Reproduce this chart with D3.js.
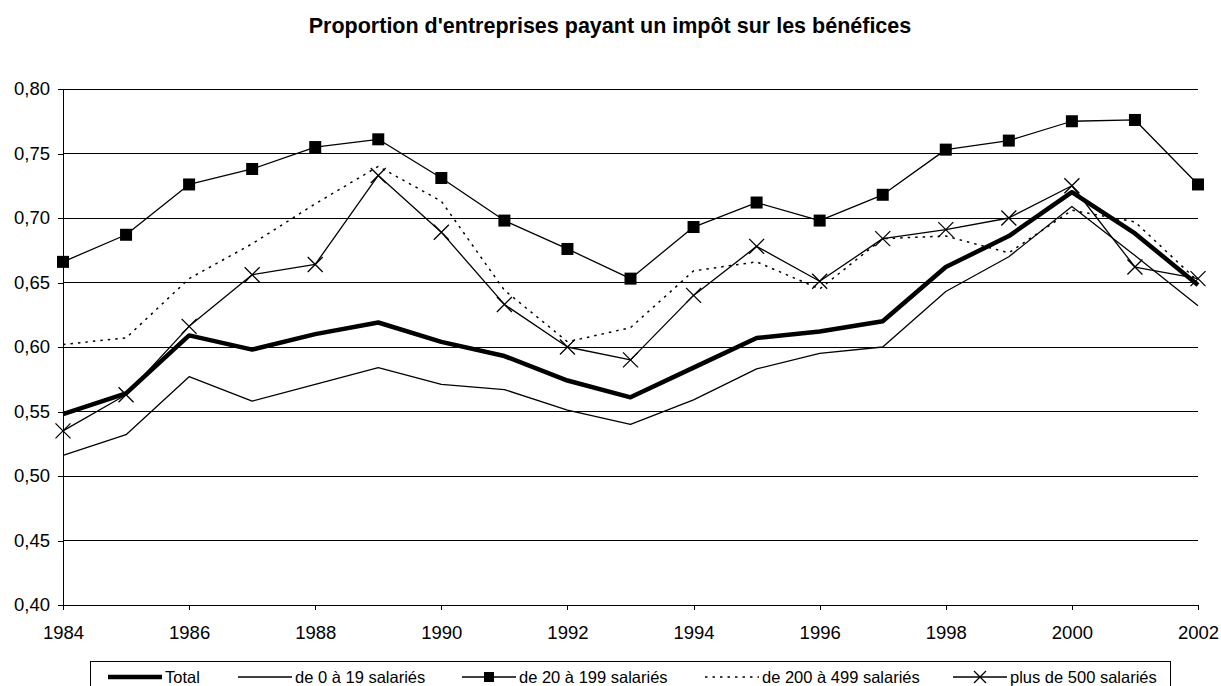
<!DOCTYPE html>
<html>
<head>
<meta charset="utf-8">
<script src="https://cdn.jsdelivr.net/npm/d3@7"></script>
<style>
  body { margin: 0; background: #fff; }
  svg { display: block; font-family: "Liberation Sans", Arial, sans-serif; }
</style>
</head>
<body>
<svg></svg>
<script>
const width = 1221;
const height = 686;

// data
const years = d3.range(1984, 2003);
const total    = [0.548,0.564,0.609,0.598,0.610,0.619,0.604,0.593,0.574,0.561,0.584,0.607,0.612,0.620,0.662,0.686,0.720,0.688,0.648];
const s0to19   = [0.516,0.532,0.577,0.558,0.571,0.584,0.571,0.567,0.551,0.540,0.559,0.583,0.595,0.600,0.643,0.670,0.709,0.671,0.632];
const s20to199 = [0.666,0.687,0.726,0.738,0.755,0.761,0.731,0.698,0.676,0.653,0.693,0.712,0.698,0.718,0.753,0.760,0.775,0.776,0.726];
const s200to499= [0.602,0.607,0.653,0.680,0.711,0.740,0.713,0.644,0.604,0.615,0.659,0.666,0.645,0.684,0.686,0.673,0.706,0.697,0.651];
const s500plus = [0.535,0.563,0.616,0.656,0.664,0.733,0.689,0.633,0.600,0.590,0.640,0.678,0.651,0.684,0.691,0.700,0.725,0.662,0.653];

const seriesNames = ["Total", "de 0 à 19 salariés", "de 20 à 199 salariés", "de 200 à 499 salariés", "plus de 500 salariés"];
const yTicks = [0.40, 0.45, 0.50, 0.55, 0.60, 0.65, 0.70, 0.75, 0.80];
const xTicks = [1984, 1986, 1988, 1990, 1992, 1994, 1996, 1998, 2000, 2002];
const title = "Proportion d'entreprises payant un impôt sur les bénéfices";

const series = [
  {name: seriesNames[0], values: total,     width: 4.5, dash: null,  marker: null},
  {name: seriesNames[1], values: s0to19,    width: 1.3, dash: null,  marker: null},
  {name: seriesNames[2], values: s20to199,  width: 1.3, dash: null,  marker: "square"},
  {name: seriesNames[3], values: s200to499, width: 1.5, dash: "2.5,5", marker: null},
  {name: seriesNames[4], values: s500plus,  width: 1.3, dash: null,  marker: "cross"}
];

const margin = {left: 63, right: 23, top: 89, bottom: 81};

const svg = d3.select("svg").attr("width", width).attr("height", height);

const xScale = d3.scaleLinear()
  .domain([1984, 2002])
  .range([margin.left, width - margin.right]);

const yScale = d3.scaleLinear()
  .domain([0.40, 0.80])
  .range([height - margin.bottom, margin.top]);

const fr = d3.formatLocale({decimal: ",", thousands: " ", grouping: [3], currency: ["", "€"]});
const fmt = fr.format(".2f");

// gridlines
svg.append("g")
  .selectAll("line")
  .data(yTicks.slice(1))
  .enter()
  .append("line")
  .attr("x1", margin.left)
  .attr("x2", width - margin.right)
  .attr("y1", d => yScale(d))
  .attr("y2", d => yScale(d))
  .attr("stroke", "#000")
  .attr("stroke-width", 1)
  .attr("shape-rendering", "crispEdges");

// axes
const yAxis = d3.axisLeft(yScale).tickValues(yTicks).tickFormat(fmt).tickSize(5).tickPadding(8);
const gy = svg.append("g")
  .attr("transform", "translate(" + margin.left + ",0)")
  .call(yAxis);

const xAxis = d3.axisBottom(xScale).tickValues(xTicks).tickFormat(d3.format("d")).tickSize(5).tickPadding(16);
const gx = svg.append("g")
  .attr("transform", "translate(0," + (height - margin.bottom) + ")")
  .call(xAxis);

[gx, gy].forEach(g => {
  g.select(".domain").attr("stroke", "#000").attr("shape-rendering", "crispEdges");
  g.selectAll(".tick line").attr("stroke", "#000").attr("shape-rendering", "crispEdges");
  g.selectAll("text").attr("font-size", 18.5).attr("fill", "#000")
    .attr("font-family", "'Liberation Sans', Arial, sans-serif");
});
gx.select(".domain").attr("d", "M" + margin.left + ",0H" + (width - margin.right));

// lines
const line = d3.line()
  .x((d, i) => xScale(years[i]))
  .y(d => yScale(d));

series.forEach(s => {
  svg.append("path")
    .datum(s.values)
    .attr("d", line)
    .attr("fill", "none")
    .attr("stroke", "#000")
    .attr("stroke-width", s.width)
    .attr("stroke-linejoin", "round")
    .attr("stroke-dasharray", s.dash);

  if (s.marker === "square") {
    svg.append("g").selectAll("rect")
      .data(s.values)
      .enter()
      .append("rect")
      .attr("x", (d, i) => xScale(years[i]) - 6)
      .attr("y", d => yScale(d) - 6)
      .attr("width", 12)
      .attr("height", 12)
      .attr("fill", "#000");
  }
  if (s.marker === "cross") {
    svg.append("g").selectAll("path")
      .data(s.values)
      .enter()
      .append("path")
      .attr("d", (d, i) => {
        const cx = xScale(years[i]), cy = yScale(d), r = 7.5;
        return "M" + (cx - r) + "," + (cy - r) + "L" + (cx + r) + "," + (cy + r) +
               "M" + (cx - r) + "," + (cy + r) + "L" + (cx + r) + "," + (cy - r);
      })
      .attr("stroke", "#000")
      .attr("stroke-width", 1.3);
  }
});

// title
svg.append("text")
  .attr("x", 610)
  .attr("y", 33)
  .attr("text-anchor", "middle")
  .attr("font-size", 21.5)
  .attr("font-weight", "bold")
  .text(title);

// legend
const legend = svg.append("g");
legend.append("rect")
  .attr("x", 90.5).attr("y", 661.5)
  .attr("width", 1080).attr("height", 40)
  .attr("fill", "#fff").attr("stroke", "#000");

const legendX = [108, 238, 462, 705, 953];
const legendY = 677;
series.forEach((s, i) => {
  const x0 = legendX[i];
  legend.append("line")
    .attr("x1", x0).attr("x2", x0 + 54)
    .attr("y1", legendY).attr("y2", legendY)
    .attr("stroke", "#000")
    .attr("stroke-width", s.width)
    .attr("stroke-dasharray", s.dash);
  if (s.marker === "square") {
    legend.append("rect")
      .attr("x", x0 + 27 - 5).attr("y", legendY - 5)
      .attr("width", 10).attr("height", 10).attr("fill", "#000");
  }
  if (s.marker === "cross") {
    const cx = x0 + 27, r = 6;
    legend.append("path")
      .attr("d", "M" + (cx - r) + "," + (legendY - r) + "L" + (cx + r) + "," + (legendY + r) +
                 "M" + (cx - r) + "," + (legendY + r) + "L" + (cx + r) + "," + (legendY - r))
      .attr("stroke", "#000").attr("stroke-width", 1.3);
  }
  legend.append("text")
    .attr("x", x0 + 57)
    .attr("y", 683)
    .attr("font-size", 16.5)
    .text(s.name);
});
</script>
</body>
</html>
